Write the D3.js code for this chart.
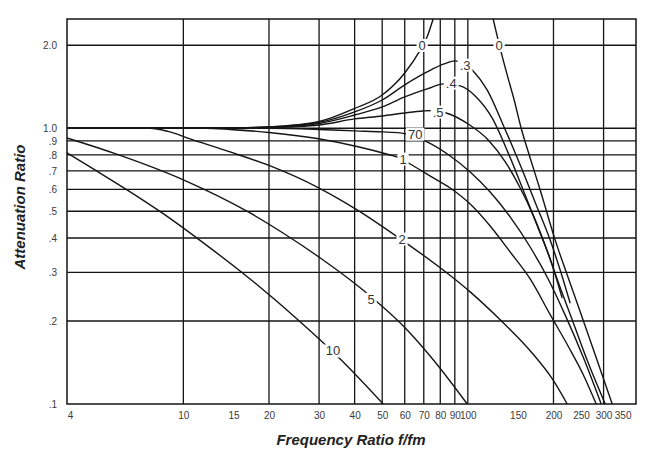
<!DOCTYPE html>
<html><head><meta charset="utf-8">
<script src="https://cdn.jsdelivr.net/npm/d3@7"></script>
<style>html,body{margin:0;padding:0;background:#fff;} svg{display:block;}</style>
</head><body>
<svg id="chart" width="649" height="454"></svg>
<script>
// ---- tick / grid values ----
const xTickValues = [4,10,15,20,30,40,50,60,70,80,90,100,150,200,250,300,350];
const xGridValues = [10,20,30,40,50,60,70,80,90,100,200,300];
const yTickValues = [2.0,1.0,0.9,0.8,0.7,0.6,0.5,0.4,0.3,0.2,0.1];
const yTickLabels = ["2.0","1.0",".9",".8",".7",".6",".5",".4",".3",".2",".1"];
const yGridValues = [2.0,1.0,0.9,0.8,0.7,0.6,0.5,0.4,0.3,0.2];

// ---- curves: [frequency ratio f/fm, attenuation ratio] ----
const zeta0Low  = [[3.9,1],[10,1],[15,1.003],[20,1.011],[30,1.058],[40,1.18],[50,1.32],[60,1.587],[68,1.92],[72,2.15],[75.5,2.49]];
const zeta0High = [[122.7,2.49],[128.8,2.02],[137.5,1.561],[145.5,1.266],[154,1.0],[165.6,0.78],[179.6,0.597],[202.8,0.393],[223.4,0.294],[248.3,0.216],[280.3,0.151],[321.7,0.1]];
const zeta03 = [[3.9,1],[11.45,1],[20,1.011],[30,1.05],[40,1.146],[50,1.266],[60,1.436],[71.9,1.6],[82.5,1.711],[90.2,1.755],[97.8,1.711],[104.4,1.613],[116.9,1.377],[133.1,1.028],[152.8,0.736],[173.9,0.527],[194.7,0.393],[211.1,0.306],[228.9,0.232]];
const zeta04 = [[3.9,1],[11.45,1],[20,1.007],[30,1.041],[40,1.117],[50,1.195],[60,1.299],[71.9,1.389],[82.5,1.448],[94,1.424],[106.1,1.31],[121.7,1.09],[138.6,0.814],[156.5,0.597],[176.7,0.435],[196.3,0.327],[214.6,0.242]];
const zeta05 = [[3.9,1],[11.45,1],[20,1.007],[30,1.028],[40,1.081],[50,1.108],[60,1.136],[69.6,1.155],[75.5,1.16],[83.9,1.136],[100.3,1.036],[117.9,0.907],[135.4,0.755],[152.8,0.607],[170.1,0.481],[188.5,0.368],[207.7,0.277],[232.7,0.202],[264.8,0.141],[304,0.1]];
const zeta07 = [[3.9,1],[14.6,1],[20,1.0],[30,0.99],[40,0.978],[50,0.97],[57.8,0.962],[71.9,0.892],[86.7,0.793],[101.9,0.694],[119.8,0.587],[140.8,0.477],[165.6,0.371],[191.6,0.284],[219.9,0.21],[254.3,0.148],[294.3,0.1]];
const zeta1  = [[3.9,1],[12,1],[14.6,0.99],[20,0.9656],[29.5,0.918],[40.8,0.859],[53.3,0.80],[56.9,0.784],[62.7,0.742],[73.8,0.671],[86.7,0.607],[101.9,0.531],[119.8,0.442],[140.8,0.356],[165.6,0.284],[194.7,0.211],[225.3,0.162],[254.3,0.128],[282.6,0.1]];
const zeta2  = [[3.9,1],[7.64,1],[8.84,0.9737],[10.56,0.915],[14.6,0.8205],[20,0.733],[30,0.607],[40.8,0.506],[58.7,0.393],[81.9,0.306],[101.9,0.255],[129.9,0.202],[165.6,0.156],[199.5,0.122],[223.4,0.1]];
const zeta5  = [[3.9,0.922],[5.66,0.814],[10,0.65],[17.16,0.493],[22.4,0.417],[30.3,0.3385],[42.8,0.259],[61.2,0.1855],[76.7,0.142],[99.5,0.1]];
const zeta10 = [[3.9,0.814],[4.89,0.706],[6.24,0.604],[8.62,0.485],[11.92,0.38],[17.16,0.284],[25.1,0.2034],[35.6,0.1456],[50.4,0.1]];

const allCurves = [zeta0Low, zeta0High, zeta03, zeta04, zeta05, zeta07, zeta1, zeta2, zeta5, zeta10];

// ---- curve labels: [text, f, attenuation] ----
const curveLabels = [["0",69.1,2.0],["0",128.8,2.0],[".3",97.8,1.696],[".4",87.4,1.46],[".5",78.6,1.146],["70",65.3,0.953],["1",59.2,0.774],["2",58.7,0.397],["5",45.7,0.240],["10",33.6,0.156]];

const svg = d3.select("#chart");
svg.append("rect").attr("width",649).attr("height",454).attr("fill","#fff");

const x = d3.scaleLog().domain([3.9,390]).range([67,636]);
const y = d3.scaleLog().domain([0.1,2.49]).range([404,19]);
const [x0,x1] = x.range(); const [yb,yt] = y.range();

const ink = "#151515";
const grid = svg.append("g").attr("stroke",ink).attr("stroke-width",1.3);
grid.selectAll("line.v").data(xGridValues).join("line").attr("class","v")
  .attr("x1",d=>x(d)).attr("x2",d=>x(d)).attr("y1",yt).attr("y2",yb);
grid.selectAll("line.h").data(yGridValues).join("line").attr("class","h")
  .attr("x1",x0).attr("x2",x1).attr("y1",d=>y(d)).attr("y2",d=>y(d));
svg.append("rect").attr("x",x0).attr("y",yt).attr("width",x1-x0).attr("height",yb-yt)
  .attr("fill","none").attr("stroke",ink).attr("stroke-width",1.5);

// axes labels
const fontFam = '"Liberation Sans", Arial, sans-serif';
const xAxis = d3.axisBottom(x).tickValues(xTickValues).tickFormat(d3.format("d")).tickSize(0).tickPadding(8);
const gx = svg.append("g").attr("transform",`translate(0,${yb})`).call(xAxis);
gx.select(".domain").remove();
gx.selectAll("text").style("font-family",fontFam).style("font-size","10px").attr("fill","#3a3a3a");

const yAxis = d3.axisLeft(y).tickValues(yTickValues).tickFormat((d,i)=>yTickLabels[i]).tickSize(0).tickPadding(10);
const gy = svg.append("g").attr("transform",`translate(${x0},0)`).call(yAxis);
gy.select(".domain").remove();
gy.selectAll("text").style("font-family",fontFam).style("font-size","10px").attr("fill","#3a3a3a");

// curves
const line = d3.line().x(d=>x(d[0])).y(d=>y(d[1])).curve(d3.curveMonotoneX);
svg.append("g").selectAll("path").data(allCurves).join("path")
  .attr("d",line).attr("fill","none").attr("stroke",ink).attr("stroke-width",1.4);

// curve labels with white knock-out
const lg = svg.append("g");
curveLabels.forEach(([t,f,a])=>{
  const g = lg.append("g").attr("transform",`translate(${x(f)},${y(a)})`);
  const r = g.append("rect").attr("fill","#fff");
  const tx = g.append("text").attr("text-anchor","middle").attr("dy","0.36em")
    .style("font-family",fontFam).style("font-size","13px").attr("fill","#333").text(t);
  const bb = tx.node().getBBox();
  r.attr("x",bb.x-2).attr("y",bb.y+1).attr("width",bb.width+4).attr("height",bb.height-2);
});

// axis titles
svg.append("text").attr("x",351).attr("y",445).attr("text-anchor","middle")
  .style("font-family",fontFam).style("font-size","15px").style("font-weight","bold").style("font-style","italic")
  .attr("fill","#222").text("Frequency Ratio f/fm");
svg.append("text").attr("transform","translate(25,207) rotate(-90)").attr("text-anchor","middle")
  .style("font-family",fontFam).style("font-size","15px").style("font-weight","bold").style("font-style","italic")
  .attr("fill","#222").text("Attenuation Ratio");
</script>
</body></html>
